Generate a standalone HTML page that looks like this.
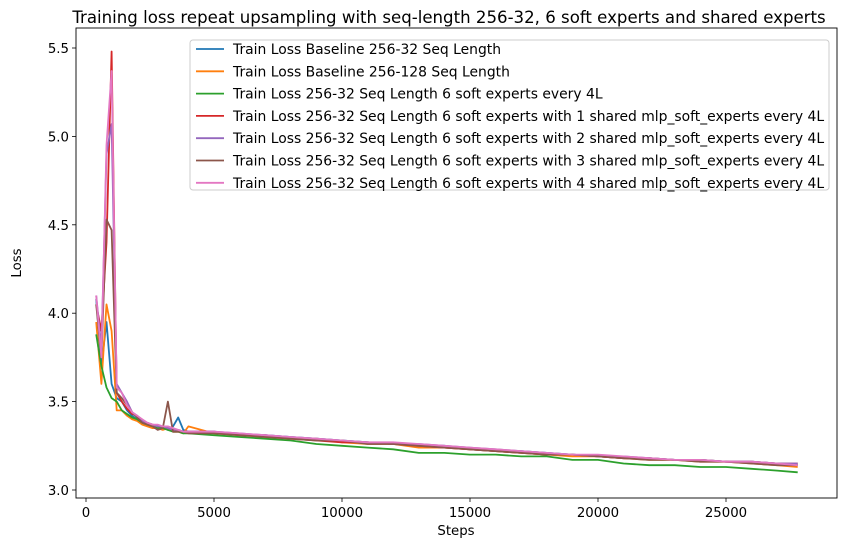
<!DOCTYPE html>
<html><head><meta charset="utf-8"><style>
body{margin:0;background:#fff;}
svg{font-family:"DejaVu Sans","Liberation Sans",sans-serif;}
</style></head><body>
<svg id="chart" width="846" height="547">
<rect width="846" height="547" fill="#fff"/>
<text x="449" y="23" font-size="16.6" text-anchor="middle">Training loss repeat upsampling with seq-length 256-32, 6 soft experts and shared experts</text>
<g id="plot"></g>
<rect x="76" y="28" width="761" height="470" fill="none" stroke="#000" stroke-width="0.9"/>
<text x="456" y="535" font-size="13.3" text-anchor="middle">Steps</text>
<text x="21" y="263" font-size="13.3" text-anchor="middle" transform="rotate(-90 21 263)">Loss</text>
<g id="legend"></g>
</svg>
<script>
const steps=[400,600,800,1000,1200,1400,1600,1800,2000,2200,2400,2600,2800,3000,3200,3400,3600,3800,4000,5000,6000,7000,8000,9000,10000,11000,12000,13000,14000,15000,16000,17000,18000,19000,20000,21000,22000,23000,24000,25000,26000,27000,27800];
const blue=[4.08,3.7,3.95,3.6,3.52,3.5,3.45,3.42,3.4,3.38,3.37,3.36,3.35,3.36,3.34,3.36,3.41,3.34,3.33,3.33,3.31,3.31,3.30,3.29,3.28,3.27,3.26,3.25,3.25,3.23,3.22,3.22,3.21,3.20,3.19,3.18,3.18,3.17,3.17,3.16,3.16,3.15,3.14];
const orange=[3.95,3.6,4.05,3.9,3.45,3.45,3.42,3.4,3.39,3.37,3.36,3.35,3.35,3.34,3.35,3.33,3.33,3.32,3.36,3.32,3.31,3.30,3.29,3.29,3.27,3.26,3.26,3.24,3.24,3.23,3.22,3.21,3.20,3.19,3.19,3.18,3.17,3.17,3.16,3.16,3.15,3.14,3.13];
const green=[3.88,3.7,3.58,3.52,3.5,3.45,3.43,3.41,3.4,3.38,3.37,3.36,3.35,3.35,3.34,3.33,3.33,3.32,3.32,3.31,3.30,3.29,3.28,3.26,3.25,3.24,3.23,3.21,3.21,3.20,3.20,3.19,3.19,3.17,3.17,3.15,3.14,3.14,3.13,3.13,3.12,3.11,3.10];
const red=[4.05,3.9,4.4,5.48,3.55,3.5,3.46,3.43,3.42,3.39,3.38,3.37,3.36,3.36,3.35,3.34,3.34,3.33,3.33,3.33,3.31,3.31,3.29,3.28,3.27,3.27,3.26,3.25,3.24,3.23,3.22,3.21,3.20,3.20,3.19,3.18,3.18,3.17,3.17,3.16,3.16,3.15,3.15];
const purple=[4.1,3.8,4.9,5.07,3.6,3.55,3.5,3.44,3.42,3.39,3.38,3.37,3.36,3.36,3.35,3.34,3.34,3.33,3.33,3.33,3.32,3.31,3.30,3.29,3.28,3.27,3.26,3.26,3.25,3.24,3.23,3.22,3.21,3.20,3.19,3.19,3.18,3.17,3.17,3.16,3.16,3.15,3.15];
const brown=[4.05,3.75,4.53,4.47,3.55,3.52,3.48,3.44,3.41,3.38,3.37,3.36,3.34,3.35,3.5,3.33,3.33,3.33,3.32,3.32,3.31,3.30,3.29,3.28,3.28,3.26,3.26,3.25,3.24,3.23,3.22,3.21,3.20,3.20,3.19,3.18,3.17,3.17,3.16,3.16,3.15,3.14,3.14];
const pink=[4.1,3.75,4.95,5.37,3.58,3.55,3.48,3.44,3.42,3.4,3.38,3.37,3.37,3.36,3.36,3.35,3.34,3.33,3.33,3.33,3.32,3.31,3.30,3.29,3.28,3.27,3.27,3.26,3.25,3.24,3.23,3.22,3.21,3.20,3.20,3.19,3.18,3.17,3.17,3.16,3.16,3.15,3.14];
const xTicks=[0,5000,10000,15000,20000,25000];
const yTicks=[3.0,3.5,4.0,4.5,5.0,5.5];
const yTickLabels=["3.0","3.5","4.0","4.5","5.0","5.5"];
const seriesNames=["Train Loss Baseline 256-32 Seq Length","Train Loss Baseline 256-128 Seq Length","Train Loss 256-32 Seq Length 6 soft experts every 4L","Train Loss 256-32 Seq Length 6 soft experts with 1 shared mlp_soft_experts every 4L","Train Loss 256-32 Seq Length 6 soft experts with 2 shared mlp_soft_experts every 4L","Train Loss 256-32 Seq Length 6 soft experts with 3 shared mlp_soft_experts every 4L","Train Loss 256-32 Seq Length 6 soft experts with 4 shared mlp_soft_experts every 4L"];
const seriesData=[blue,orange,green,red,purple,brown,pink];
const colors=["#1f77b4","#ff7f0e","#2ca02c","#d62728","#9467bd","#8c564b","#e377c2"];
const NS="http://www.w3.org/2000/svg";
const xs=v=>86+v*0.0256;
const ys=v=>490-(v-3.0)*176.8;
const plot=document.getElementById('plot');
function mk(t,a,p){const e=document.createElementNS(NS,t);for(const k in a)e.setAttribute(k,a[k]);p.appendChild(e);return e;}
xTicks.forEach(t=>{
  const l=mk('line',{x1:xs(t),x2:xs(t),y1:498,y2:502,stroke:'#000','stroke-width':0.8},plot);
  
  
  const tx=mk('text',{x:xs(t),y:517,'font-size':13.3,'text-anchor':'middle'},plot);
  tx.textContent=t;
  
  
});
yTicks.forEach((t,i)=>{
  const l=mk('line',{x1:72,x2:76,y1:ys(t),y2:ys(t),stroke:'#000','stroke-width':0.8},plot);
  
  
  const tx=mk('text',{x:69,y:ys(t)+5,'font-size':13.3,'text-anchor':'end'},plot);
  tx.textContent=yTickLabels[i];
  
  
});
seriesData.forEach((d,i)=>{
  const pts=d.map((v,j)=>xs(steps[j]).toFixed(1)+','+ys(v).toFixed(1)).join(' ');
  const pl=mk('polyline',{points:pts,fill:'none',stroke:colors[i],'stroke-width':1.8,'stroke-linejoin':'round'},plot);
  
  
});
const lg=document.getElementById('legend');


mk('rect',{x:190,y:40,width:639,height:150,rx:3,fill:'#fff','fill-opacity':0.8,stroke:'#ccc'},lg);
seriesNames.forEach((n,i)=>{
  const y=49+i*22.3;
  const g=mk('g',{},lg);
  
  
  mk('line',{x1:196,x2:224,y1:y,y2:y,stroke:colors[i],'stroke-width':1.8},g);
  const t=mk('text',{x:233,y:y+5,'font-size':13.9},g);
  t.textContent=n;
});
</script>
</body></html>
